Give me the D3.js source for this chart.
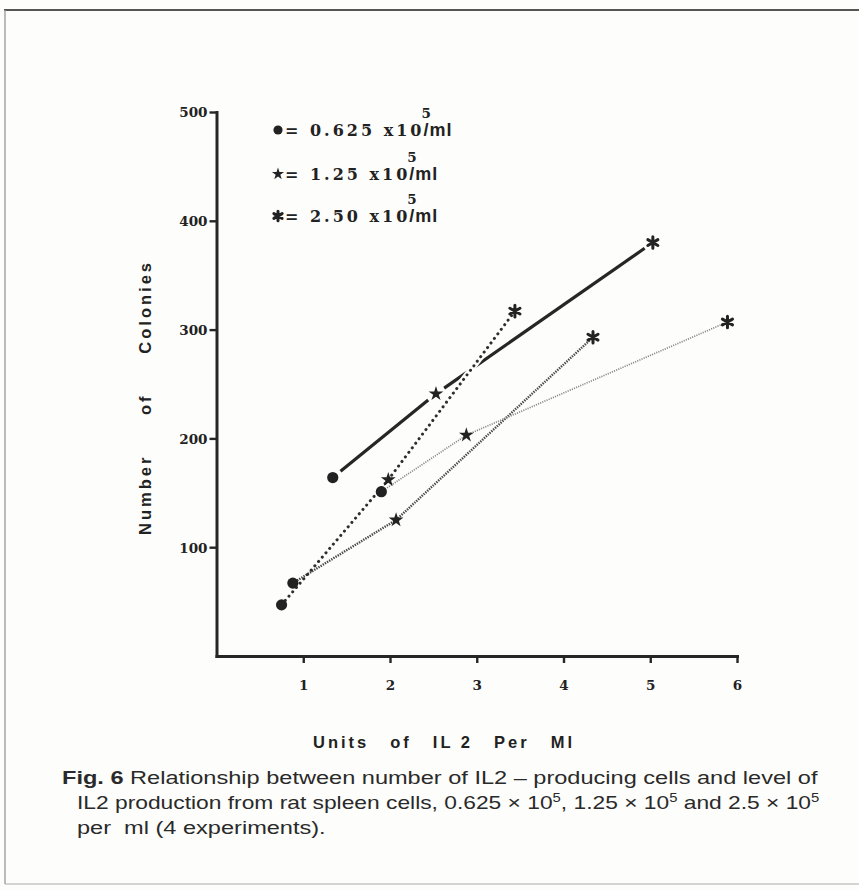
<!DOCTYPE html>
<html>
<head>
<meta charset="utf-8">
<script src="https://cdn.jsdelivr.net/npm/d3@7"></script>
<style>
  html, body { margin: 0; padding: 0; background: #fdfdfb; }
  svg { display: block; }
</style>
</head>
<body>
<script>
// ---------------- DATA ----------------
const experiments = ["Exp 1", "Exp 2", "Exp 3", "Exp 4"];
// three cell densities per experiment: 0.625, 1.25, 2.50 x10^5/ml
const densityLabels = ["0.625", "1.25", "2.50"];
const unitsIL2 = [
  [1.34, 2.53, 5.03],
  [0.75, 1.98, 3.44],
  [0.88, 2.07, 4.34],
  [1.90, 2.88, 5.89]
];
const colonies = [
  [164, 241, 380],
  [47, 162, 317],
  [67, 125, 293],
  [151, 203, 307]
];
const xTicks = [1, 2, 3, 4, 5, 6];
const yTicks = [100, 200, 300, 400, 500];
const xTitleWords = ["Units", "of", "IL 2", "Per", "Ml"];
const yTitleWords = ["Number", "of", "Colonies"];
const captionBold = "Fig. 6";

// ---------------- SETUP ----------------
const W = 859, H = 890;
const bg = "#fdfdfb";
const svg = d3.select("body").append("svg").attr("width", W).attr("height", H);
svg.append("rect").attr("width", W).attr("height", H).attr("fill", bg);

// frame
svg.append("line").attr("x1", 4).attr("x2", W).attr("y1", 10).attr("y2", 10)
  .attr("stroke", "#555").attr("stroke-width", 2.2);
svg.append("line").attr("x1", 5).attr("x2", 5).attr("y1", 10).attr("y2", 884)
  .attr("stroke", "#999").attr("stroke-width", 1.3);
svg.append("line").attr("x1", 5).attr("x2", W).attr("y1", 884).attr("y2", 884)
  .attr("stroke", "#aaa").attr("stroke-width", 1.2);

const x = d3.scaleLinear().domain([0, 6]).range([216.5, 737]);
const y = d3.scaleLinear().domain([0, 500]).range([656, 112]);

const ink = "#262626";
const numFont = "'DejaVu Serif', serif";
const sansFont = "'Liberation Sans', Arial, sans-serif";

// ---------------- AXES ----------------
const yAxis = svg.append("g").attr("transform", `translate(${x(0)},0)`)
  .call(d3.axisLeft(y).tickValues(yTicks).tickFormat(d3.format("d"))
    .tickSize(7).tickSizeOuter(0).tickPadding(2));
const xAxis = svg.append("g").attr("transform", `translate(0,${y(0)})`)
  .call(d3.axisBottom(x).tickValues(xTicks).tickFormat(d3.format("d"))
    .tickSize(7).tickSizeOuter(0).tickPadding(17));

[yAxis, xAxis].forEach(g => {
  g.select(".domain").attr("stroke", ink).attr("stroke-width", 3).attr("stroke-linecap", "square");
  g.selectAll(".tick line").attr("stroke", ink).attr("stroke-width", 2.4);
  g.selectAll(".tick text").attr("fill", "#222").attr("font-family", numFont)
    .attr("font-weight", "bold").attr("font-size", 13.5);
});
yAxis.selectAll(".tick text").attr("dy", "0.36em");

// axis titles, words placed with wide gaps to fill the measured span
function spacedTitle(parent, words, span) {
  const t = parent.append("text").attr("text-anchor", "start")
    .attr("font-family", sansFont).attr("font-weight", "bold")
    .attr("font-size", 16.5).attr("letter-spacing", 3).attr("fill", "#222");
  const spans = words.map((wd, k) => t.append("tspan").text(wd));
  const nat = t.node().getComputedTextLength() - 3;
  const gap = (span - nat) / (words.length - 1);
  spans.forEach((s, k) => { if (k > 0) s.attr("dx", gap); });
  return t;
}
const yT = svg.append("g");
spacedTitle(yT, yTitleWords, 272);
yT.attr("transform", `translate(151,${535}) rotate(-90)`);

const xT = svg.append("g");
spacedTitle(xT, xTitleWords, 259);
xT.attr("transform", `translate(313,748)`);

// ---------------- MARKERS ----------------
const asteriskType = {
  draw(ctx, size) {
    const r = Math.sqrt(size) / 2;
    for (let k = 0; k < 3; k++) {
      const a = Math.PI / 2 + k * Math.PI / 3;
      ctx.moveTo(r * Math.cos(a), r * Math.sin(a));
      ctx.lineTo(-r * Math.cos(a), -r * Math.sin(a));
    }
  }
};
function drawMarker(g, kind, cx, cy, scale) {
  if (kind === 0) {
    g.append("circle").attr("cx", cx).attr("cy", cy).attr("r", 5.6 * scale).attr("fill", "#222");
  } else if (kind === 1) {
    g.append("path").attr("d", d3.symbol(d3.symbolStar, 68 * scale * scale)())
      .attr("transform", `translate(${cx},${cy})`).attr("fill", "#222");
  } else {
    g.append("path").attr("d", d3.symbol(asteriskType, 135 * scale * scale)())
      .attr("transform", `translate(${cx},${cy})`).attr("fill", "none")
      .attr("stroke", "#222").attr("stroke-width", 3).attr("stroke-linecap", "round");
  }
}

// ---------------- LINES ----------------
const lineStyles = [
  { stroke: "#262626", width: 3.2, dash: null, cap: "butt", gap: 10 },
  { stroke: "#2e2e2e", width: 3.0, dash: "0.1,5.6", cap: "round", gap: 0 },
  { stroke: "#484848", width: 2.4, dash: "1.4,1.1", cap: "butt", gap: 0 },
  { stroke: "#858585", width: 1.7, dash: "1.1,1.2", cap: "butt", gap: 0 }
];

function segments(i) {
  const pts = unitsIL2[i].map((u, j) => [x(u), y(colonies[i][j])]);
  const gap = lineStyles[i].gap;
  const segs = [];
  for (let j = 0; j < pts.length - 1; j++) {
    const [x1, y1] = pts[j], [x2, y2] = pts[j + 1];
    const len = Math.hypot(x2 - x1, y2 - y1);
    const ux = (x2 - x1) / len, uy = (y2 - y1) / len;
    segs.push([x1 + ux * gap, y1 + uy * gap, x2 - ux * gap, y2 - uy * gap]);
  }
  return segs;
}
const linesG = svg.append("g");
function drawSegs(i) {
  const st = lineStyles[i];
  segments(i).forEach(s => {
    linesG.append("line")
      .attr("x1", s[0]).attr("y1", s[1]).attr("x2", s[2]).attr("y2", s[3])
      .attr("stroke", st.stroke).attr("stroke-width", st.width)
      .attr("stroke-dasharray", st.dash).attr("stroke-linecap", st.cap);
  });
}
[0, 2, 3].forEach(drawSegs);
// paper gap where the dotted line crosses the solid one
const crossSeg = segments(1)[1];
linesG.append("line")
  .attr("x1", crossSeg[0]).attr("y1", crossSeg[1]).attr("x2", crossSeg[2]).attr("y2", crossSeg[3])
  .attr("stroke", bg).attr("stroke-width", 6.5);
drawSegs(1);

const markG = svg.append("g");
experiments.forEach((e, i) => {
  unitsIL2[i].forEach((u, j) => drawMarker(markG, j, x(u), y(colonies[i][j]), 1));
});

// ---------------- LEGEND ----------------
const legendRowsY = [130, 174, 216];
const legG = svg.append("g");
densityLabels.forEach((lab, j) => {
  const cy = legendRowsY[j];
  drawMarker(legG, j, 278, cy, 0.82);
  const ls = 3.0;
  const t = legG.append("text").attr("x", 285).attr("y", cy + 5.5)
    .attr("font-family", numFont).attr("font-weight", "bold").attr("font-size", 16)
    .attr("letter-spacing", ls).attr("fill", "#222")
    .text("= " + lab + " x10");
  const w = t.node().getComputedTextLength() - ls;
  legG.append("text").attr("x", 285 + w).attr("y", cy - 12)
    .attr("font-family", numFont).attr("font-weight", "bold").attr("font-size", 13.5)
    .attr("fill", "#222").text("5");
  legG.append("text").attr("x", 285 + w + 2).attr("y", cy + 6)
    .attr("font-family", sansFont).attr("font-weight", "bold")
    .attr("font-size", 18).attr("letter-spacing", 1).attr("fill", "#222").text("/ml");
});

// ---------------- CAPTION ----------------
const capG = svg.append("g").attr("fill", "#2a2a2a").attr("font-family", sansFont).attr("font-size", 18.5);

function scaleLine(textSel, x0, sx) {
  textSel.attr("transform", `translate(${x0},0) scale(${sx},1) translate(${-x0},0)`);
}

const l1 = capG.append("text").attr("x", 62).attr("y", 784);
l1.append("tspan").attr("font-weight", "bold").text(captionBold);
l1.append("tspan").text(" Relationship between number of IL2 \u2013 producing cells and level of");
const sx = 757 / l1.node().getBBox().width;
scaleLine(l1, 62, sx);

const l2 = capG.append("text").attr("x", 77).attr("y", 809);
const l2parts = ["IL2 production from rat spleen cells, 0.625 \u00d7 10", "5", ", 1.25 \u00d7 10", "5", " and 2.5 \u00d7 10", "5"];
l2parts.forEach((p, k) => {
  if (k % 2 === 1) {
    l2.append("tspan").attr("dy", -7).attr("font-size", 12).text(p);
  } else {
    l2.append("tspan").attr("dy", k === 0 ? 0 : 7).text(p);
  }
});
scaleLine(l2, 77, 743 / l2.node().getBBox().width);

const l3 = capG.append("text").attr("x", 77).attr("y", 834).text("per  ml (4 experiments).");
l3.style("white-space", "pre");
scaleLine(l3, 77, sx);
</script>
</body>
</html>
